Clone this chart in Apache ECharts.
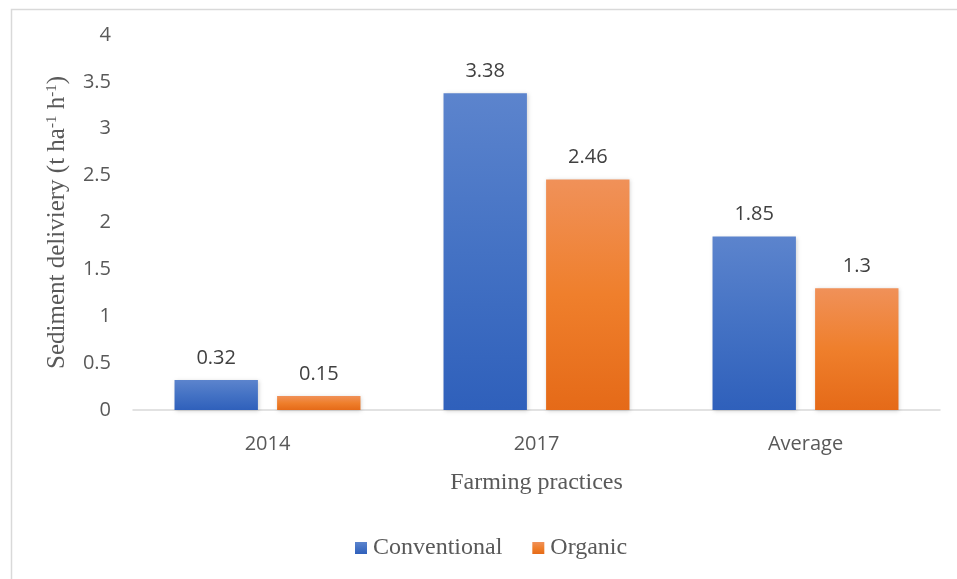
<!DOCTYPE html>
<html>
<head>
<meta charset="utf-8">
<script src="https://cdn.jsdelivr.net/npm/echarts@6/dist/echarts.min.js"></script>
<style>
  html, body { margin: 0; padding: 0; background: #fff; }
  #chart { width: 957px; height: 579px; }
</style>
</head>
<body>
<div id="chart"></div>
<script>
// Sediment delivery by farming practice
var categories = ['2014', '2017', 'Average'];
var conventional = [0.32, 3.38, 1.85];
var organic = [0.15, 2.46, 1.3];
var seriesNames = ['Conventional', 'Organic'];

var serif = 'Liberation Serif, Times New Roman, serif';
var sans = 'Open Sans, Liberation Sans, sans-serif';

function grad(top, mid, bottom) {
  return new echarts.graphic.LinearGradient(0, 0, 0, 1, [
    { offset: 0, color: top },
    { offset: 0.5, color: mid },
    { offset: 1, color: bottom }
  ]);
}

var labelStyle = {
  show: true,
  position: 'top',
  distance: 12,
  color: '#404040',
  fontFamily: sans,
  fontSize: 20
};

var chart = echarts.init(document.getElementById('chart'));
chart.setOption({
  backgroundColor: '#ffffff',
  animation: false,
  graphic: [{
    type: 'rect',
    left: 9,
    top: 7,
    shape: { width: 960, height: 590 },
    style: { fill: 'none', stroke: '#d9d9d9', lineWidth: 1.5 },
    silent: true
  }],
  grid: { left: 133, right: 17, top: 35, bottom: 169 },
  legend: {
    top: 531,
    left: 350,
    itemWidth: 12,
    itemHeight: 12,
    itemGap: 30,
    icon: 'rect',
    textStyle: {
      fontFamily: serif,
      fontSize: 24,
      color: '#595959',
      padding: [0, 0, 0, 1]
    },
    data: seriesNames
  },
  xAxis: {
    type: 'category',
    data: categories,
    name: 'Farming practices',
    nameLocation: 'middle',
    nameGap: 61,
    nameTextStyle: {
      fontFamily: serif,
      fontSize: 24,
      color: '#595959'
    },
    axisLine: { lineStyle: { color: '#d9d9d9', width: 1.5 } },
    axisTick: { show: false },
    axisLabel: {
      margin: 24,
      color: '#595959',
      fontFamily: sans,
      fontSize: 20
    }
  },
  yAxis: {
    type: 'value',
    min: 0,
    max: 4,
    interval: 0.5,
    name: 'Sediment deliviery (t ha{sup|-1} h{sup|-1})',
    nameLocation: 'middle',
    nameGap: 63,
    nameRotate: 90,
    nameTextStyle: {
      fontFamily: serif,
      fontSize: 25,
      color: '#595959',
      rich: {
        sup: {
          fontFamily: serif,
          fontSize: 15,
          color: '#595959',
          verticalAlign: 'top',
          padding: [0, 0, 10, 0]
        }
      }
    },
    splitLine: { show: false },
    axisLine: { show: false },
    axisTick: { show: false },
    axisLabel: {
      margin: 22,
      color: '#595959',
      fontFamily: sans,
      fontSize: 20,
      formatter: function (v) { return String(v); }
    }
  },
  series: [
    {
      name: seriesNames[0],
      type: 'bar',
      data: conventional,
      barWidth: '31%',
      barGap: '23%',
      itemStyle: {
        color: grad('#5c84cd', '#4472c4', '#2f60bb'),
        shadowColor: 'rgba(0,0,0,0.18)',
        shadowBlur: 4,
        shadowOffsetX: 1,
        shadowOffsetY: 1
      },
      label: labelStyle
    },
    {
      name: seriesNames[1],
      type: 'bar',
      data: organic,
      barWidth: '31%',
      itemStyle: {
        color: grad('#f09159', '#ef7f2c', '#e56a18'),
        shadowColor: 'rgba(0,0,0,0.18)',
        shadowBlur: 4,
        shadowOffsetX: 1,
        shadowOffsetY: 1
      },
      label: labelStyle
    }
  ]
});
</script>
</body>
</html>
